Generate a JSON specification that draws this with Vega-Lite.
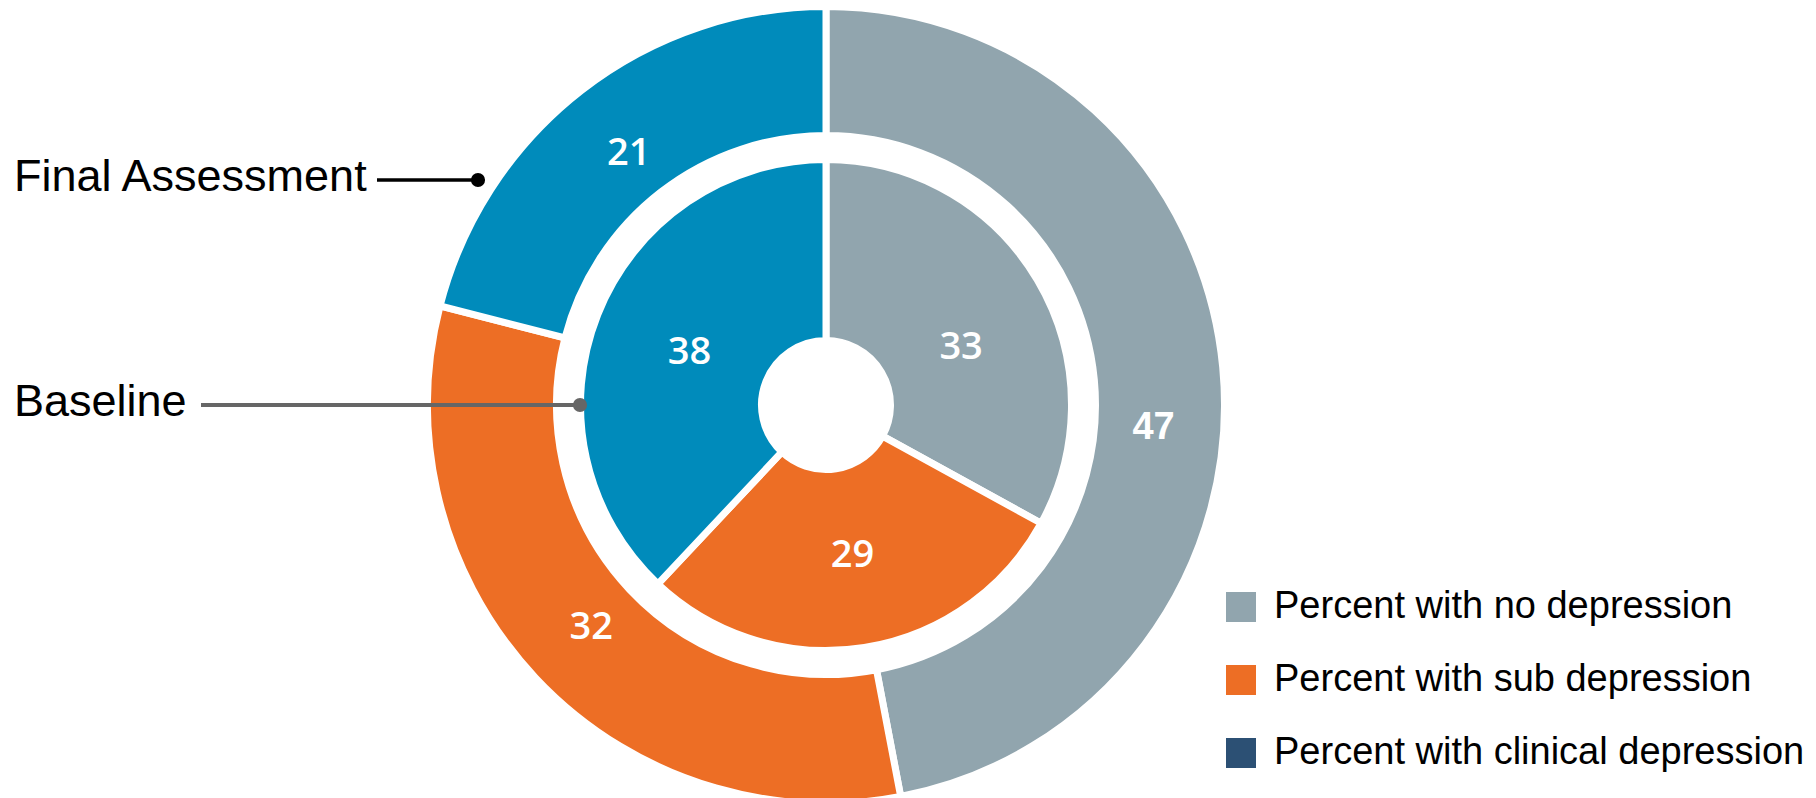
{
  "$schema": "https://vega.github.io/schema/vega-lite/v6.json",
  "width": 1652,
  "height": 786,
  "autosize": {"type": "none"},
  "padding": {"left": 0, "top": 12, "right": 164, "bottom": 0},
  "background": "white",
  "config": {"view": {"stroke": null}},
  "datasets": {
    "rings": [
      {"ring": "Final Assessment", "category": "Percent with no depression", "rank": 1, "value": 47},
      {"ring": "Final Assessment", "category": "Percent with sub depression", "rank": 2, "value": 32},
      {"ring": "Final Assessment", "category": "Percent with clinical depression", "rank": 3, "value": 21},
      {"ring": "Baseline", "category": "Percent with no depression", "rank": 1, "value": 33},
      {"ring": "Baseline", "category": "Percent with sub depression", "rank": 2, "value": 29},
      {"ring": "Baseline", "category": "Percent with clinical depression", "rank": 3, "value": 38}
    ],
    "notes": [
      {"label": "Final Assessment", "x_text": 14, "y_text": 179, "x_start": 377, "x_end": 478, "y": 168},
      {"label": "Baseline", "x_text": 14, "y_text": 404, "x_start": 201, "x_end": 580, "y": 393}
    ]
  },
  "layer": [
    {
      "data": {"name": "rings"},
      "transform": [{"filter": "datum.ring === 'Final Assessment'"}],
      "mark": {"type": "arc", "outerRadius": 398.5, "innerRadius": 269.5, "stroke": "white", "strokeWidth": 7},
      "encoding": {
        "theta": {"field": "value", "type": "quantitative", "stack": true},
        "order": {"field": "rank", "type": "quantitative"},
        "color": {"field": "category", "type": "nominal",
          "scale": {"domain": ["Percent with no depression", "Percent with sub depression", "Percent with clinical depression"], "range": ["#91a5ae", "#ed6e25", "#008bbb"]},
          "legend": null}
      }
    },
    {
      "data": {"name": "rings"},
      "transform": [{"filter": "datum.ring === 'Baseline'"}],
      "mark": {"type": "arc", "outerRadius": 245.5, "innerRadius": 64.5, "stroke": "white", "strokeWidth": 7},
      "encoding": {
        "theta": {"field": "value", "type": "quantitative", "stack": true},
        "order": {"field": "rank", "type": "quantitative"},
        "color": {"field": "category", "type": "nominal",
          "scale": {"domain": ["Percent with no depression", "Percent with sub depression", "Percent with clinical depression"], "range": ["#91a5ae", "#ed6e25", "#008bbb"]},
          "legend": null}
      }
    },
    {
      "data": {"name": "rings"},
      "transform": [{"filter": "datum.ring === 'Baseline'"}],
      "mark": {"type": "arc", "outerRadius": 0.001, "innerRadius": 0},
      "encoding": {
        "theta": {"field": "value", "type": "quantitative", "stack": true},
        "order": {"field": "rank", "type": "quantitative"},
        "color": {"field": "category", "type": "nominal",
          "scale": {"domain": ["Percent with no depression", "Percent with sub depression", "Percent with clinical depression"], "range": ["#91a5ae", "#ed6e25", "#2c5074"]},
          "legend": {"title": null, "orient": "none", "legendX": 1222, "legendY": 576,
            "symbolType": "square", "symbolSize": 900, "symbolStrokeWidth": 0,
            "labelFont": "Liberation Sans", "labelFontSize": 38, "labelColor": "#000000",
            "labelOffset": 14, "rowPadding": 35, "labelLimit": 700}}
      }
    },
    {
      "data": {"name": "rings"},
      "transform": [{"filter": "datum.ring === 'Final Assessment'"}],
      "mark": {"type": "text", "radius": 322, "dy": 3, "font": "Open Sans", "fontWeight": 600, "fontSize": 38, "fill": "white", "align": "center", "baseline": "middle"},
      "encoding": {
        "theta": {"field": "value", "type": "quantitative", "stack": true},
        "order": {"field": "rank", "type": "quantitative"},
        "detail": {"field": "category", "type": "nominal"},
        "text": {"condition": {"test": "datum.rank === 1", "value": ""}, "field": "value", "type": "quantitative"}
      }
    },
    {
      "data": {"name": "rings"},
      "transform": [{"filter": "datum.ring === 'Final Assessment'"}],
      "mark": {"type": "text", "radius": 326, "dx": 3, "dy": 54, "font": "Liberation Sans", "fontWeight": "bold", "fontSize": 38, "fill": "white", "align": "center", "baseline": "middle"},
      "encoding": {
        "theta": {"field": "value", "type": "quantitative", "stack": true},
        "order": {"field": "rank", "type": "quantitative"},
        "detail": {"field": "category", "type": "nominal"},
        "text": {"condition": {"test": "datum.rank !== 1", "value": ""}, "field": "value", "type": "quantitative"}
      }
    },
    {
      "data": {"name": "rings"},
      "transform": [{"filter": "datum.ring === 'Baseline'"}],
      "mark": {"type": "text", "radius": 150, "dx": 3, "dy": 3, "font": "Open Sans", "fontWeight": 600, "fontSize": 38, "fill": "white", "align": "center", "baseline": "middle"},
      "encoding": {
        "theta": {"field": "value", "type": "quantitative", "stack": true},
        "order": {"field": "rank", "type": "quantitative"},
        "detail": {"field": "category", "type": "nominal"},
        "text": {"condition": {"test": "datum.rank === 1", "value": ""}, "field": "value", "type": "quantitative"}
      }
    },
    {
      "data": {"name": "rings"},
      "transform": [{"filter": "datum.ring === 'Baseline'"}],
      "mark": {"type": "text", "radius": 150, "dx": 6, "dy": 19, "font": "Open Sans", "fontWeight": 600, "fontSize": 38, "fill": "white", "align": "center", "baseline": "middle"},
      "encoding": {
        "theta": {"field": "value", "type": "quantitative", "stack": true},
        "order": {"field": "rank", "type": "quantitative"},
        "detail": {"field": "category", "type": "nominal"},
        "text": {"condition": {"test": "datum.rank !== 1", "value": ""}, "field": "value", "type": "quantitative"}
      }
    },
    {
      "data": {"name": "notes"},
      "transform": [{"filter": "datum.label === 'Final Assessment'"}],
      "mark": {"type": "rule", "color": "#000000", "strokeWidth": 3.5},
      "encoding": {
        "x": {"field": "x_start", "type": "quantitative", "scale": {"domain": [0, 1652], "nice": false, "zero": false}, "axis": null},
        "x2": {"field": "x_end"},
        "y": {"field": "y", "type": "quantitative", "scale": {"domain": [0, 786], "nice": false, "zero": false, "reverse": true}, "axis": null}
      }
    },
    {
      "data": {"name": "notes"},
      "transform": [{"filter": "datum.label === 'Baseline'"}],
      "mark": {"type": "rule", "color": "#666666", "strokeWidth": 4},
      "encoding": {
        "x": {"field": "x_start", "type": "quantitative", "scale": {"domain": [0, 1652], "nice": false, "zero": false}, "axis": null},
        "x2": {"field": "x_end"},
        "y": {"field": "y", "type": "quantitative", "scale": {"domain": [0, 786], "nice": false, "zero": false, "reverse": true}, "axis": null}
      }
    },
    {
      "data": {"name": "notes"},
      "transform": [{"filter": "datum.label === 'Final Assessment'"}],
      "mark": {"type": "circle", "color": "#000000", "opacity": 1, "size": 200},
      "encoding": {
        "x": {"field": "x_end", "type": "quantitative", "scale": {"domain": [0, 1652], "nice": false, "zero": false}, "axis": null},
        "y": {"field": "y", "type": "quantitative", "scale": {"domain": [0, 786], "nice": false, "zero": false, "reverse": true}, "axis": null}
      }
    },
    {
      "data": {"name": "notes"},
      "transform": [{"filter": "datum.label === 'Baseline'"}],
      "mark": {"type": "circle", "color": "#666666", "opacity": 1, "size": 200},
      "encoding": {
        "x": {"field": "x_end", "type": "quantitative", "scale": {"domain": [0, 1652], "nice": false, "zero": false}, "axis": null},
        "y": {"field": "y", "type": "quantitative", "scale": {"domain": [0, 786], "nice": false, "zero": false, "reverse": true}, "axis": null}
      }
    },
    {
      "data": {"name": "notes"},
      "mark": {"type": "text", "font": "Liberation Sans", "fontSize": 45, "color": "#000000", "align": "left", "baseline": "alphabetic"},
      "encoding": {
        "x": {"field": "x_text", "type": "quantitative", "scale": {"domain": [0, 1652], "nice": false, "zero": false}, "axis": null},
        "y": {"field": "y_text", "type": "quantitative", "scale": {"domain": [0, 786], "nice": false, "zero": false, "reverse": true}, "axis": null},
        "text": {"field": "label", "type": "nominal"}
      }
    }
  ],
  "resolve": {"scale": {"color": "independent"}}
}
